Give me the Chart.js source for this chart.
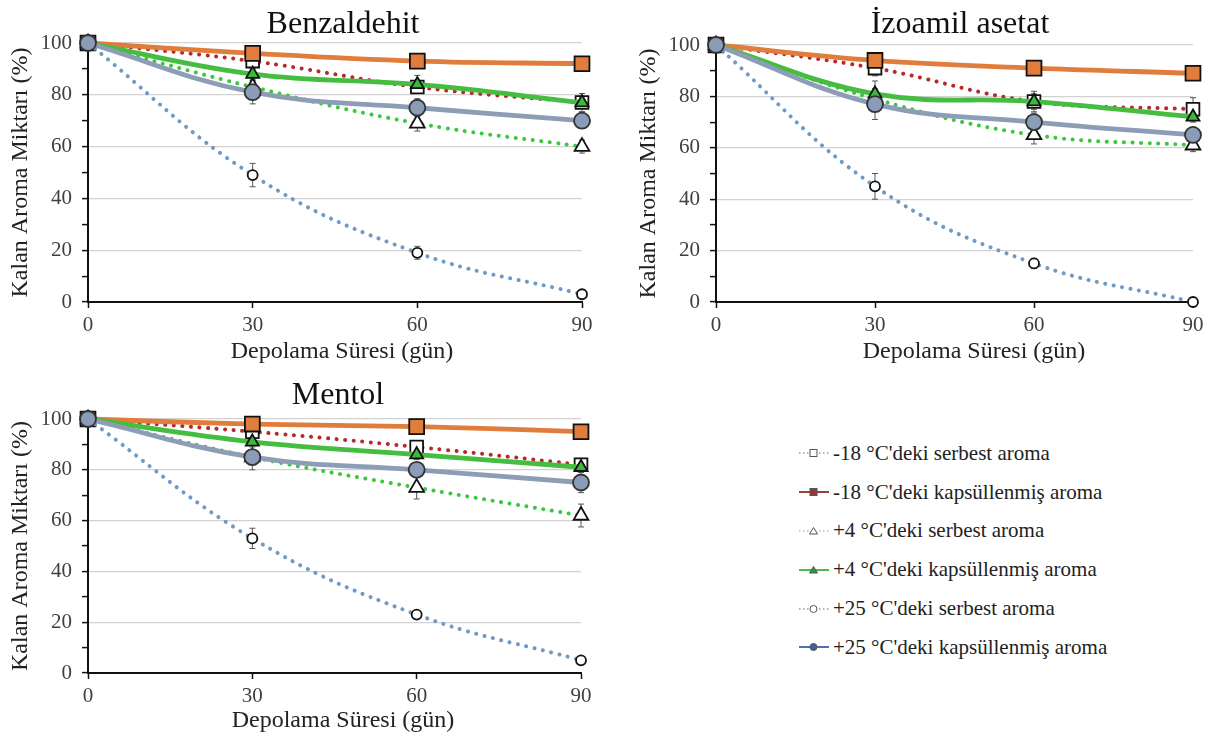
<!DOCTYPE html>
<html>
<head>
<meta charset="utf-8">
<script src="https://cdn.jsdelivr.net/npm/chart.js@4.4.1/dist/chart.umd.min.js"></script>
<style>
  body { margin: 0; background: #fff; width: 1213px; height: 742px; overflow: hidden; position: relative; font-family: "Liberation Serif", "Times New Roman", serif; }
  .pane { position: absolute; }
  .lbl { position: absolute; transform: translate(-50%, -50%); white-space: nowrap; line-height: 1; }
  .ttl { font-size: 32px; color: #111; }
  .xt { font-size: 24px; color: #222; }
  #legend { position: absolute; left: 798px; top: 434px; }
  .row { height: 38.8px; display: flex; align-items: center; font-size: 21px; color: #222; white-space: nowrap; }
  .row svg { margin-right: 3px; }
</style>
</head>
<body>
<div class="pane" style="left:0;top:0;width:600px;height:370px"><canvas id="c1"></canvas></div>
<div class="pane" style="left:620px;top:0;width:593px;height:370px"><canvas id="c2"></canvas></div>
<div class="pane" style="left:0;top:370px;width:600px;height:372px"><canvas id="c3"></canvas></div>

<div class="lbl ttl" style="left:343px;top:22px">Benzaldehit</div>
<div class="lbl ttl" style="left:960px;top:22px">İzoamil asetat</div>
<div class="lbl ttl" style="left:338px;top:393px">Mentol</div>
<div class="lbl xt" style="left:342px;top:350px">Depolama Süresi (gün)</div>
<div class="lbl xt" style="left:974px;top:350px">Depolama Süresi (gün)</div>
<div class="lbl xt" style="left:343px;top:719px">Depolama Süresi (gün)</div>
<div id="legend"></div>

<script>
// storage time (days)
var days = [0, 30, 60, 90];
var seriesNames = [
  "-18 °C'deki serbest aroma",
  "-18 °C'deki kapsüllenmiş aroma",
  "+4 °C'deki serbest aroma",
  "+4 °C'deki kapsüllenmiş aroma",
  "+25 °C'deki serbest aroma",
  "+25 °C'deki kapsüllenmiş aroma"
];
var yTitle = 'Kalan Aroma Miktarı (%)';

// Benzaldehit
var benzM18Serbest = [100, 93, 83, 77];
var benzM18Kaps    = [100, 96, 93, 92];
var benzP4Serbest  = [100, 83, 69, 60];
var benzP4Kaps     = [100, 88, 84, 77];
var benzP25Serbest = [100, 49, 19, 3];
var benzP25Kaps    = [100, 81, 75, 70];
var benzErr = [[0, 2, 2, 2], [0, 2, 1.5, 1.5], [0, 2, 3, 2.5], [0, 2, 3.5, 3.5], [0, 4.5, 2.5, 1], [0, 4.5, 3.5, 3]];

// Izoamil asetat
var izoM18Serbest = [100, 91, 78, 75];
var izoM18Kaps    = [100, 94, 91, 89];
var izoP4Serbest  = [100, 79, 65, 61];
var izoP4Kaps     = [100, 81, 78, 72];
var izoP25Serbest = [100, 45, 15, 0];
var izoP25Kaps    = [100, 77, 70, 65];
var izoErr = [[0, 3, 3, 4.5], [0, 3, 1.5, 1], [0, 3, 3.5, 2.5], [0, 5, 4, 2], [0, 5, 2, 0.5], [0, 6, 3.5, 3]];

// Mentol
var mentM18Serbest = [100, 95, 89, 82];
var mentM18Kaps    = [100, 98, 97, 95];
var mentP4Serbest  = [100, 85, 73, 62];
var mentP4Kaps     = [100, 91, 86, 81];
var mentP25Serbest = [100, 53, 23, 5];
var mentP25Kaps    = [100, 85, 80, 75];
var mentErr = [[0, 2, 2.5, 2.5], [0, 1, 1, 1.5], [0, 2, 4.5, 4.5], [0, 2, 2, 2], [0, 4, 1.5, 0.5], [0, 5, 2.5, 4]];

var dotted = [0.1, 8.5];
var styles = [
  { line: '#B52A2A', dash: dotted, width: 4, point: 'rect', r: 9, fill: '#fff', edge: '#111' },
  { line: '#E07D3C', dash: [], width: 4.8, point: 'rect', r: 10.5, fill: '#E07D3C', edge: '#111' },
  { line: '#3CC83C', dash: dotted, width: 4, point: 'triangle', r: 8.5, fill: '#fff', edge: '#111' },
  { line: '#45BD40', dash: [], width: 4.8, point: 'triangle', r: 7.5, fill: '#3DB83D', edge: '#111' },
  { line: '#6E9BC5', dash: dotted, width: 4, point: 'circle', r: 5, fill: '#fff', edge: '#111' },
  { line: '#8C9DB5', dash: [], width: 4.8, point: 'circle', r: 8, fill: '#8A9CB8', edge: '#333' }
];

// error bars drawn under the markers
var errorBars = {
  id: 'errorBars',
  beforeDatasetsDraw: function (chart) {
    var ctx = chart.ctx, xs = chart.scales.x, ys = chart.scales.y;
    ctx.save();
    ctx.strokeStyle = '#555';
    ctx.lineWidth = 1;
    chart.data.datasets.forEach(function (ds) {
      ds.errors.forEach(function (e, i) {
        if (!e) return;
        var px = xs.getPixelForValue(ds.data[i].x);
        var t = ys.getPixelForValue(ds.data[i].y + e);
        var b = ys.getPixelForValue(ds.data[i].y - e);
        ctx.beginPath();
        ctx.moveTo(px, t); ctx.lineTo(px, b);
        ctx.moveTo(px - 3, t); ctx.lineTo(px + 3, t);
        ctx.moveTo(px - 3, b); ctx.lineTo(px + 3, b);
        ctx.stroke();
      });
    });
    ctx.restore();
  }
};

function makeChart(id, series, errs, yWidth, yTitlePad, pad) {
  var datasets = series.map(function (vals, k) {
    var s = styles[k];
    return {
      label: seriesNames[k],
      data: days.map(function (d, i) { return { x: d, y: vals[i] }; }),
      errors: errs[k],
      borderColor: s.line,
      borderWidth: s.width,
      borderDash: s.dash,
      borderCapStyle: 'round',
      tension: 0.4,
      pointStyle: s.point,
      pointRadius: s.r,
      pointBackgroundColor: s.fill,
      pointBorderColor: s.edge,
      pointBorderWidth: 1.8,
      clip: false,
      order: 6 - k
    };
  });
  return new Chart(document.getElementById(id), {
    type: 'line',
    data: { datasets: datasets },
    plugins: [errorBars],
    options: {
      responsive: true,
      maintainAspectRatio: false,
      animation: false,
      events: [],
      layout: { padding: pad },
      plugins: { legend: { display: false }, title: { display: false }, tooltip: { enabled: false } },
      scales: {
        x: {
          type: 'linear', min: 0, max: 90,
          afterFit: function (s) { s.height = 30; },
          ticks: { stepSize: 30, padding: 5, color: '#404040', font: { family: 'Liberation Serif', size: 21 } },
          grid: { drawOnChartArea: false, tickLength: 6, tickColor: '#111', tickWidth: 1.5 },
          border: { color: '#111', width: 2 }
        },
        y: {
          min: 0, max: 100,
          afterFit: function (s) { s.width = yWidth; },
          ticks: {
            stepSize: 10, autoSkip: false, padding: 10, color: '#404040',
            font: { family: 'Liberation Serif', size: 21 },
            callback: function (v) { return v % 20 === 0 ? v : ''; }
          },
          grid: {
            color: function (c) { return c.tick && c.tick.value % 20 === 0 && c.tick.value > 0 ? '#d2d2d2' : 'rgba(0,0,0,0)'; },
            lineWidth: 1.2,
            tickLength: 6, tickColor: '#111', tickWidth: 1.5
          },
          border: { color: '#111', width: 2 },
          title: { display: true, text: yTitle, color: '#222', padding: { top: yTitlePad, bottom: 0 }, font: { family: 'Liberation Serif', size: 24 } }
        }
      }
    }
  });
}

makeChart('c1', [benzM18Serbest, benzM18Kaps, benzP4Serbest, benzP4Kaps, benzP25Serbest, benzP25Kaps], benzErr,
  88, 6, { left: 0, top: 43, right: 18, bottom: 38 });
makeChart('c2', [izoM18Serbest, izoM18Kaps, izoP4Serbest, izoP4Kaps, izoP25Serbest, izoP25Kaps], izoErr,
  96, 14, { left: 0, top: 45, right: 20, bottom: 38 });
makeChart('c3', [mentM18Serbest, mentM18Kaps, mentP4Serbest, mentP4Kaps, mentP25Serbest, mentP25Kaps], mentErr,
  88, 6, { left: 0, top: 49, right: 19, bottom: 39 });

// legend swatches
var legendLine = ['#9a9a9a', '#A0403C', '#9fcf9f', '#4CBB4C', '#9a9a9a', '#4C6FB5'];
var legendMark = ['#fff', '#8E3B3B', '#fff', '#2f9a2f', '#fff', '#3E5FA8'];
var html = '';
seriesNames.forEach(function (name, k) {
  var dash = styles[k].dash.length ? ' stroke-dasharray="1.5 2.5"' : '';
  var sw = styles[k].dash.length ? 1.5 : 2;
  var m = '';
  if (styles[k].point === 'rect') m = '<rect x="12" y="3.5" width="7" height="7" fill="' + legendMark[k] + '" stroke="#555" stroke-width="1"/>';
  if (styles[k].point === 'triangle') m = '<polygon points="15.5,3.5 19.5,10 11.5,10" fill="' + legendMark[k] + '" stroke="#555" stroke-width="1"/>';
  if (styles[k].point === 'circle') m = '<circle cx="15.5" cy="7" r="3.5" fill="' + legendMark[k] + '" stroke="#555" stroke-width="1"/>';
  html += '<div class="row"><svg width="32" height="14"><line x1="1" y1="7" x2="31" y2="7" stroke="' + legendLine[k] + '" stroke-width="' + sw + '"' + dash + '/>' + m + '</svg>' + name + '</div>';
});
document.getElementById('legend').innerHTML = html;
</script>
</body>
</html>
